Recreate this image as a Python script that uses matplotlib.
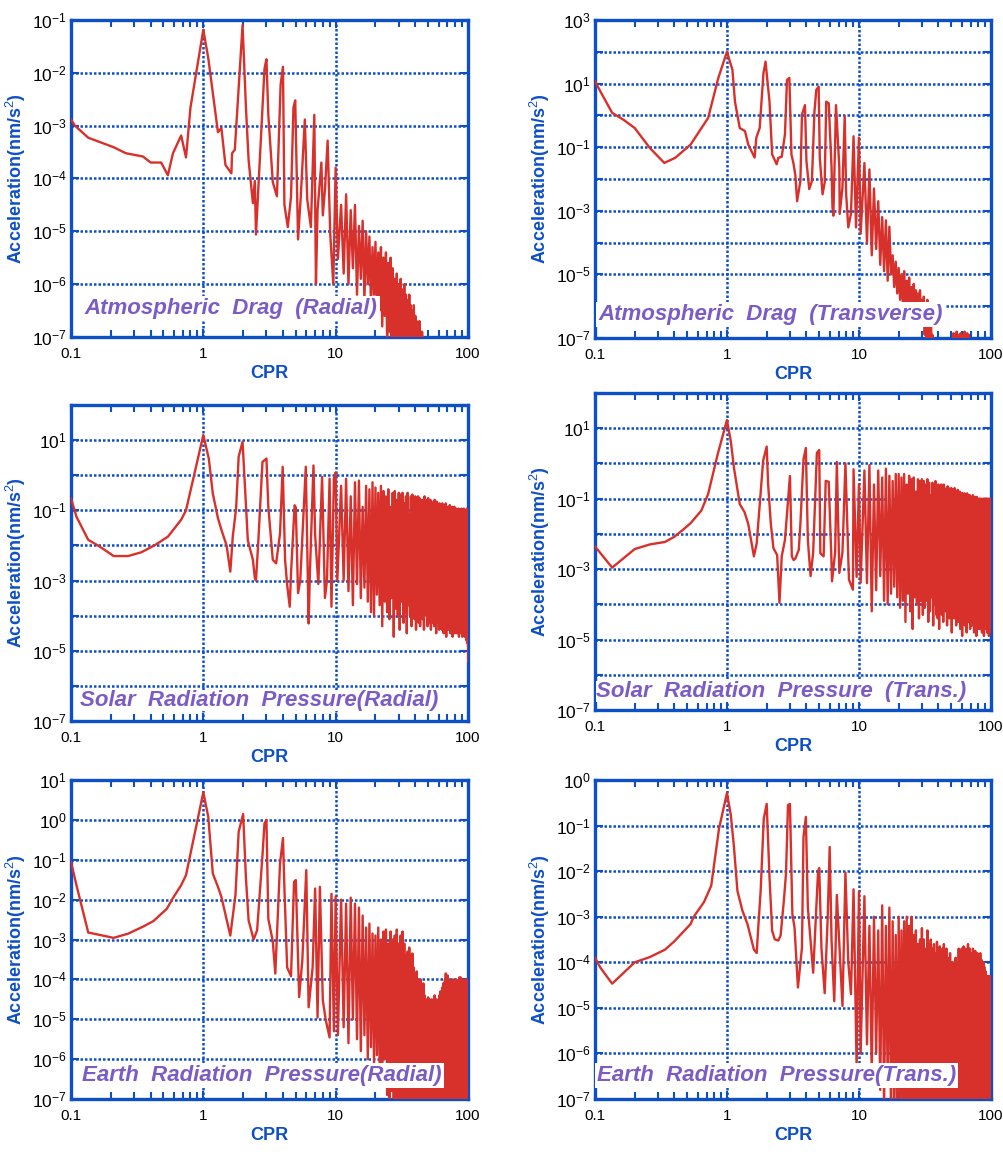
import numpy as np
import matplotlib.pyplot as plt
from matplotlib.ticker import FixedLocator, FuncFormatter, LogLocator, NullLocator, NullFormatter

BLUE = '#0d4fc6'
RED = '#d8302b'
PURPLE = '#7b5cc6'

plt.rcParams['font.family'] = ['Liberation Sans', 'DejaVu Sans']
plt.rcParams['mathtext.fontset'] = 'custom'
plt.rcParams['mathtext.rm'] = 'Liberation Sans'
plt.rcParams['mathtext.it'] = 'Liberation Sans:italic'
plt.rcParams['mathtext.bf'] = 'Liberation Sans:bold'

# ---- spectra below ~10 CPR: frequency (CPR) and amplitude (nm/s^2) ----
# higher harmonics n = 11, 12, ... are given as log10 amplitude at the
# harmonic itself (peak) and half way to the next one (trough)

# atmospheric drag, radial
ad_rad_cpr = [0.1, 0.107, 0.135, 0.21, 0.26, 0.35, 0.4, 0.48, 0.54, 0.59,
              0.68, 0.74, 0.8, 1.0, 1.09, 1.29, 1.37, 1.47, 1.63, 1.65,
              1.73, 1.98, 2.1, 2.2, 2.37, 2.45, 2.5, 2.9, 3.0, 3.1,
              3.35, 3.6, 3.84, 4.0, 4.1, 4.35, 4.6, 4.8, 4.95, 5.2,
              5.45, 5.85, 6.1, 6.5, 6.9, 7.1, 7.3, 7.8, 8.0, 8.3,
              8.7, 9.1, 9.6, 10.0, 10.4]
ad_rad_acc = [1.3e-3, 1.0e-3, 5.9e-4, 3.9e-4, 3.0e-4, 2.6e-4, 2.0e-4, 2.0e-4, 1.15e-4, 3.0e-4,
              6.5e-4, 2.5e-4, 2.2e-3, 6.5e-2, 1.9e-2, 7.5e-4, 9.0e-4, 1.8e-4, 1.25e-4, 3.0e-4,
              3.5e-4, 8.0e-2, 2.2e-3, 2.2e-4, 3.4e-5, 9.0e-5, 8.7e-6, 1.2e-2, 1.8e-2, 1.6e-3,
              8.5e-5, 4.6e-5, 6.0e-3, 1.3e-2, 3.2e-5, 1.2e-5, 4.5e-5, 2.2e-3, 3.0e-3, 7.0e-6,
              4.5e-5, 1.3e-3, 4.0e-5, 1.2e-5, 1.6e-3, 1.0e-6, 2.5e-5, 2.0e-4, 2.0e-5, 6.0e-5,
              5.2e-4, 9.0e-6, 1.0e-6, 1.6e-4, 3.0e-6]
ad_rad_peak = [-4.5, -4.3, -4.6, -4.5, -4.9, -4.8, -5.0, -5.1, -5.3, -5.2,
               -5.4, -5.3, -5.5, -5.4, -5.6, -5.5, -5.7, -5.9, -5.8, -6.0,
               -5.9, -6.1, -6.0, -6.2, -6.3, -6.2, -6.4, -6.5, -6.4, -6.6,
               -6.7, -6.8, -6.7, -6.9, -6.9, -7.0, -7.2, -7.4]
ad_rad_trough = [-5.8, -6.0, -5.7, -6.2, -5.9, -6.3, -6.0, -6.4, -6.2, -6.6,
                 -6.5, -6.8, -6.6, -7.1, -6.9, -7.3, -7.2, -7.5, -7.4, -7.6,
                 -7.5, -7.6, -7.7, -7.6, -7.8, -7.7, -7.8, -7.8, -7.9, -7.8,
                 -7.9, -8.0, -7.9, -8.0, -8.0, -8.0, -8.0, -8.0]

# atmospheric drag, transverse
ad_tra_cpr = [0.1, 0.11, 0.135, 0.165, 0.2, 0.26, 0.335, 0.405, 0.53, 0.72,
              0.86, 1.0, 1.1, 1.15, 1.25, 1.37, 1.45, 1.62, 1.67, 1.77,
              1.89, 1.96, 2.1, 2.2, 2.38, 2.45, 2.6, 2.75, 2.85, 2.97,
              3.08, 3.2, 3.3, 3.4, 3.6, 3.7, 3.9, 4.0, 4.2, 4.4,
              4.6, 4.75, 4.95, 5.05, 5.3, 5.5, 5.65, 5.9, 6.2, 6.3,
              6.4, 6.7, 7.1, 7.15, 7.5, 7.8, 8.0, 8.3, 8.7, 9.1,
              9.5, 10.0, 10.3]
ad_tra_acc = [12, 5.6, 1.2, 0.72, 0.4, 0.095, 0.032, 0.046, 0.12, 0.83,
              15, 100, 27, 2.7, 0.4, 0.32, 0.12, 0.047, 0.2, 0.4,
              21, 49, 2.7, 0.059, 0.029, 0.046, 0.05, 0.25, 13, 15,
              0.059, 0.029, 0.0126, 0.002, 0.0086, 1.05, 2.1, 0.037, 0.0048, 0.0086,
              1.3, 6.3, 8.0, 0.046, 0.0033, 0.0077, 2.7, 2.4, 0.023, 0.0013,
              0.0007, 2.1, 0.023, 0.0008, 0.0055, 0.94, 0.0033, 0.0003, 0.0008, 0.22,
              3e-4, 0.2, 1.9e-4]
ad_tra_peak = [-1.5, -1.7, -2.3, -2.7, -3.2, -3.3, -3.5, -4.4, -4.6, -4.8,
               -5.0, -4.9, -5.2, -5.1, -5.4, -5.3, -5.5, -5.6, -5.5, -5.8,
               -5.7, -5.9, -5.8, -5.9, -5.95, -6.9, -7.2, -7.3, -7.4, -7.5,
               -7.4, -7.5, -7.6, -7.5, -7.6, -7.7, -7.6, -7.7, -7.8, -7.7,
               -7.6, -6.85, -6.9, -7.3, -6.8, -7.2, -6.9, -7.3, -6.85, -7.2,
               -6.9, -7.3, -6.8, -7.4, -6.9, -6.85, -7.5, -6.9, -7.6, -7.8]
ad_tra_trough = [-4.0, -4.4, -4.2, -4.7, -4.9, -5.2, -5.0, -5.4, -5.6, -5.8,
                 -5.9, -6.2, -6.0, -6.4, -6.3, -6.5, -6.4, -6.6, -6.5, -6.6,
                 -6.9, -7.0, -6.95, -7.0, -7.5, -7.6, -7.7, -7.8, -7.8, -7.9,
                 -7.9, -7.9, -8.0, -7.9, -8.0, -8.0, -7.9, -8.0, -8.0, -8.0,
                 -8.0, -7.6, -7.8, -7.7, -7.6, -7.8, -7.7, -7.6, -7.8, -7.7,
                 -7.8, -7.7, -7.6, -7.8, -7.7, -7.8, -7.9, -8.0, -8.0, -8.0]

# solar radiation pressure, radial
srp_rad_cpr = [0.1, 0.11, 0.135, 0.165, 0.21, 0.27, 0.34, 0.43, 0.54, 0.68,
               0.74, 1.0, 1.1, 1.18, 1.29, 1.37, 1.5, 1.6, 1.67, 1.77,
               1.85, 1.98, 2.17, 2.37, 2.45, 2.5, 2.6, 2.8, 3.0, 3.1,
               3.35, 3.55, 3.8, 3.98, 4.15, 4.3, 4.5, 4.6, 4.9, 5.0,
               5.2, 5.4, 5.95, 6.25, 6.4, 6.8, 7.0, 7.4, 7.9, 8.3,
               8.6, 9.0, 9.3, 9.7, 10.0, 10.3]
srp_rad_acc = [0.22, 0.066, 0.0145, 0.0093, 0.005, 0.005, 0.0064, 0.0102, 0.0178, 0.054,
               0.1, 14, 3.0, 0.3, 0.06, 0.028, 0.01, 0.0018, 0.018, 0.115,
               3.4, 9.0, 0.014, 0.0039, 0.0012, 0.001, 0.0117, 2.4, 3.0, 0.125,
               0.0039, 0.0031, 0.022, 1.75, 0.0039, 7.6e-4, 1.8e-4, 1.6e-3, 0.14, 0.12,
               4.4e-4, 1e-3, 1.75, 6e-5, 2e-3, 1.9, 0.02, 8e-4, 0.9, 3.2e-4,
               1e-3, 0.8, 1.8e-4, 0.8, 1.2, 1e-3]
srp_rad_peak = [-0.3, -0.1, -0.6, -0.2, -0.15, -0.9, -0.3, -0.4, -0.2, -0.35,
                -0.5, -0.3, -0.45, -0.6, -0.4, -0.9, -0.5, -0.45, -0.7, -0.5,
                -0.55, -0.5, -0.8, -0.6, -0.5, -1.1, -0.6, -0.55, -0.65, -0.6,
                -0.7, -0.6, -0.65, -1.0, -0.7, -0.75, -0.6, -0.9, -0.7, -0.65,
                -0.8, -0.7, -0.75, -1.2, -0.8, -0.7, -0.85, -0.75, -0.8, -1.0,
                -0.8, -0.85, -0.9, -0.8, -1.1, -0.85, -0.9, -0.8, -0.95, -0.9,
                -0.9, -1.0, -0.85, -0.95, -1.3, -0.9, -1.0, -0.95, -0.9, -1.05,
                -1.0, -0.95, -1.1, -1.0, -0.95, -1.2, -1.0, -1.05, -0.95, -1.0,
                -1.0, -1.1, -0.95, -1.0, -1.05, -1.0, -1.15, -0.95, -1.0, -1.05]
srp_rad_trough = [-3.0, -3.3, -3.7, -3.1, -3.5, -3.2, -3.6, -3.9, -4.0, -3.4,
                  -3.7, -4.3, -3.6, -3.9, -4.1, -3.5, -4.6, -3.8, -4.0, -4.4,
                  -3.6, -4.2, -3.9, -4.5, -3.7, -4.0, -4.3, -3.8, -4.1, -4.4,
                  -3.8, -4.2, -4.3, -3.9, -4.1, -4.4, -3.7, -4.0, -4.3, -4.2,
                  -4.0, -4.4, -3.9, -4.2, -4.3, -4.1, -4.5, -3.9, -4.2, -4.4,
                  -4.1, -4.3, -4.4, -4.0, -4.5, -4.2, -4.3, -4.6, -4.1, -4.4,
                  -4.2, -4.4, -4.5, -4.1, -4.3, -4.6, -4.2, -4.4, -4.5, -4.3,
                  -4.2, -4.5, -4.4, -4.1, -4.6, -4.3, -4.4, -4.5, -4.2, -4.6,
                  -4.3, -4.5, -4.4, -4.6, -4.2, -4.5, -4.7, -4.4, -4.8, -5.3]

# solar radiation pressure, transverse
srp_tra_cpr = [0.1, 0.135, 0.2, 0.26, 0.34, 0.4, 0.46, 0.53, 0.64, 0.72,
               0.85, 1.0, 1.07, 1.13, 1.25, 1.36, 1.45, 1.6, 1.68, 1.88,
               2.0, 2.05, 2.15, 2.25, 2.4, 2.5, 2.6, 2.75, 3.0, 3.1,
               3.2, 3.3, 3.5, 3.6, 3.8, 3.96, 4.1, 4.3, 4.5, 4.8,
               5.0, 5.1, 5.4, 5.6, 5.9, 6.2, 6.25, 6.6, 6.8, 7.1,
               7.5, 7.9, 8.4, 9.0, 9.1, 9.6, 10.0, 10.3]
srp_tra_acc = [0.0044, 0.0011, 0.0037, 0.005, 0.0059, 0.0083, 0.0127, 0.02, 0.046, 0.135,
               1.8, 17, 4.2, 0.75, 0.07, 0.041, 0.019, 0.0023, 0.0054, 1.2,
               3.0, 0.26, 0.019, 0.0039, 0.0025, 1.1e-4, 0.0023, 0.0067, 0.44, 0.0023,
               0.0018, 0.002, 0.0035, 0.019, 1.3, 2.75, 0.0067, 6.3e-4, 0.003, 2.0,
               2.4, 0.0028, 0.0023, 0.32, 0.3, 0.0015, 4.5e-4, 0.003, 1.1, 7.8e-4,
               0.003, 1.0, 5e-4, 2.6e-4, 0.68, 6e-4, 0.26, 4.1e-4]
srp_tra_peak = [-0.2, -0.05, -0.6, -0.2, -0.4, -0.15, -0.35, -0.5, -0.3, -0.3,
                -0.4, -0.3, -0.6, -0.35, -0.45, -0.4, -0.8, -0.45, -0.5, -0.45,
                -0.5, -0.6, -0.45, -0.55, -0.9, -0.55, -0.6, -0.5, -0.7, -0.6,
                -0.65, -0.6, -0.75, -0.6, -1.0, -0.7, -0.65, -0.7, -0.8, -0.7,
                -0.75, -0.8, -0.7, -1.1, -0.8, -0.75, -0.85, -0.8, -0.9, -0.85,
                -0.85, -0.9, -0.85, -1.2, -0.9, -0.85, -0.95, -0.9, -0.9, -1.0,
                -0.95, -1.0, -0.9, -1.0, -1.3, -0.95, -1.0, -0.95, -1.0, -1.1,
                -1.0, -1.05, -1.0, -1.1, -1.0, -1.05, -1.2, -1.0, -1.05, -1.0,
                -1.1, -1.0, -1.05, -1.0, -1.1, -1.05, -1.0, -1.1, -1.05, -1.0]
srp_tra_trough = [-3.4, -4.2, -3.6, -3.2, -3.9, -4.0, -3.7, -3.5, -3.8, -4.1,
                  -3.9, -4.5, -3.7, -4.2, -4.7, -3.8, -4.0, -4.4, -3.9, -4.3,
                  -4.1, -3.9, -4.5, -4.2, -3.8, -4.6, -4.0, -4.3, -4.4, -4.7,
                  -4.0, -4.3, -4.5, -3.9, -4.2, -4.6, -4.1, -4.4, -4.3, -4.8,
                  -4.2, -4.4, -4.0, -4.6, -4.3, -4.5, -4.1, -4.7, -4.4, -4.9,
                  -4.3, -4.5, -4.6, -4.2, -4.8, -4.4, -4.5, -4.3, -4.7, -4.6,
                  -4.4, -4.6, -4.5, -4.8, -4.3, -4.6, -4.9, -4.5, -4.4, -4.7,
                  -4.5, -4.7, -4.4, -4.6, -4.8, -4.5, -4.7, -4.9, -4.6, -4.5,
                  -4.7, -4.6, -4.8, -4.5, -4.7, -4.9, -4.6, -4.8, -4.7, -4.6]

# earth radiation pressure, radial
erp_rad_cpr = [0.1, 0.11, 0.135, 0.21, 0.27, 0.35, 0.42, 0.53, 0.59, 0.68,
               0.74, 1.0, 1.09, 1.18, 1.29, 1.37, 1.6, 1.75, 1.85, 2.0,
               2.1, 2.2, 2.4, 2.55, 2.8, 2.9, 3.0, 3.1, 3.35, 3.5,
               3.8, 4.0, 4.1, 4.3, 4.6, 4.85, 5.0, 5.3, 5.6, 6.0,
               6.25, 6.7, 7.0, 7.3, 7.6, 8.0, 8.4, 9.0, 9.3, 9.7,
               10.0, 10.4]
erp_rad_acc = [0.089, 0.023, 0.0015, 0.0011, 0.0014, 0.0021, 0.0029, 0.0059, 0.011, 0.023,
               0.041, 4.9, 1.2, 0.045, 0.021, 0.0117, 0.00126, 0.013, 0.5, 1.4,
               0.034, 0.003, 0.001, 0.0017, 0.13, 0.82, 1.0, 0.0033, 0.0009, 1.4e-4,
               0.081, 0.35, 0.02, 2e-4, 1.2e-4, 0.028, 0.031, 3.6e-5, 3e-4, 0.055,
               2e-5, 2e-4, 0.019, 1.1e-5, 0.021, 3e-5, 1e-5, 3.5e-6, 0.014, 5e-6,
               0.012, 4e-6]
erp_rad_peak = [-2.0, -2.1, -1.95, -2.1, -2.2, -2.4, -2.7, -2.6, -2.85, -2.9,
                -2.7, -3.0, -2.8, -2.75, -3.1, -2.8, -3.0, -2.9, -2.75, -3.1,
                -2.9, -2.8, -3.1, -3.4, -3.3, -3.2, -3.4, -3.35, -3.7, -3.9,
                -3.8, -4.0, -4.3, -4.0, -4.3, -4.1, -4.4, -4.6, -4.5, -4.45,
                -4.5, -4.8, -4.5, -4.6, -4.5, -4.4, -4.7, -4.5, -4.6, -4.8,
                -4.4, -4.3, -4.6, -4.2, -4.1, -4.3, -4.0, -3.85, -4.1, -3.9,
                -4.2, -4.0, -4.3, -4.05, -4.1, -4.4, -4.0, -4.2, -4.1, -4.3,
                -4.0, -4.2, -4.1, -4.4, -4.0, -3.95, -4.2, -3.95, -4.3, -4.1,
                -4.0, -4.2, -4.1, -4.05, -4.3, -4.0, -4.2, -4.1, -4.4, -4.0]
erp_rad_trough = [-5.2, -5.6, -5.0, -5.5, -5.8, -5.4, -6.0, -5.7, -6.1, -5.9,
                  -6.2, -6.6, -6.0, -6.9, -7.2, -6.8, -7.4, -7.1, -7.6, -7.3,
                  -7.5, -7.8, -7.2, -7.6, -7.9, -7.4, -7.8, -7.5, -8.0, -7.7,
                  -7.6, -7.9, -7.4, -7.8, -8.0, -7.5, -7.7, -7.9, -7.6, -7.8,
                  -7.4, -7.9, -7.7, -8.0, -7.5, -7.8, -7.6, -7.9, -7.7, -7.5,
                  -7.8, -7.6, -7.9, -7.4, -7.7, -8.0, -7.6, -7.8, -7.5, -7.9,
                  -7.7, -7.5, -7.8, -8.0, -7.6, -7.9, -7.4, -7.7, -7.8, -7.6,
                  -7.9, -7.6, -7.8, -7.5, -7.7, -8.0, -7.6, -7.9, -7.7, -7.8,
                  -7.5, -7.8, -7.6, -7.9, -7.7, -7.6, -8.0, -7.8, -7.7, -7.9]

# earth radiation pressure, transverse
erp_tra_cpr = [0.1, 0.11, 0.135, 0.2, 0.26, 0.34, 0.4, 0.53, 0.56, 0.67,
               0.76, 0.87, 1.0, 1.07, 1.13, 1.2, 1.31, 1.43, 1.6, 1.68,
               1.72, 1.8, 1.9, 2.0, 2.1, 2.2, 2.3, 2.45, 2.55, 2.7,
               2.8, 2.9, 3.0, 3.13, 3.25, 3.45, 3.7, 3.8, 3.96, 4.1,
               4.3, 4.5, 4.9, 5.0, 5.2, 5.5, 5.8, 6.0, 6.2, 6.5,
               6.8, 7.5, 7.9, 8.3, 8.7, 9.1, 9.6, 10.0, 10.3]
erp_tra_acc = [1.26e-4, 7.6e-5, 3.4e-5, 1e-4, 1.3e-4, 1.9e-4, 2.9e-4, 6.9e-4, 1e-3, 2.1e-3,
               4.8e-3, 0.085, 0.52, 0.17, 0.034, 3.7e-3, 1.35e-3, 6.9e-4, 1.9e-4, 1.6e-4,
               4.9e-4, 3.7e-3, 0.14, 0.3, 7.4e-3, 4.9e-4, 3.2e-4, 3e-4, 3.9e-4, 2.3e-3,
               8.7e-3, 0.28, 0.3, 1.15e-3, 5.8e-4, 2.8e-5, 2.1e-4, 0.056, 0.155, 1.6e-3,
               3e-4, 5.9e-5, 0.01, 0.0117, 2e-4, 2.1e-5, 1e-3, 0.034, 3e-4, 1.4e-5,
               3e-3, 1.1e-5, 9.2e-3, 1e-4, 2e-5, 4e-3, 5e-7, 3.5e-3, 1e-6]
erp_tra_peak = [-2.55, -3.2, -3.0, -3.3, -2.75, -3.2, -2.8, -3.1, -3.4, -3.0,
                -3.3, -3.1, -3.0, -3.2, -3.0, -3.4, -3.3, -3.6, -3.5, -3.25,
                -3.5, -3.7, -3.3, -3.6, -3.5, -3.7, -3.6, -3.8, -3.55, -3.7,
                -3.65, -3.9, -3.7, -3.6, -3.8, -3.7, -3.9, -4.0, -3.8, -4.1,
                -4.0, -4.1, -4.2, -3.9, -4.0, -4.2, -3.7, -3.8, -3.9, -3.7,
                -3.8, -3.65, -3.9, -3.7, -3.8, -3.9, -3.6, -3.8, -3.7, -3.9,
                -3.8, -4.0, -3.7, -3.9, -3.8, -3.75, -4.0, -3.9, -3.8, -4.1,
                -3.9, -4.0, -3.8, -4.1, -3.95, -4.0, -4.2, -4.0, -4.1, -4.3,
                -4.2, -4.4, -4.3, -4.5, -4.3, -4.4, -4.6, -4.3, -4.4, -4.3]
erp_tra_trough = [-5.8, -6.4, -6.0, -6.8, -7.2, -6.6, -7.5, -7.1, -7.8, -7.3,
                  -7.6, -7.9, -7.4, -7.8, -8.0, -7.5, -7.7, -7.9, -7.6, -7.8,
                  -7.4, -7.9, -7.7, -8.0, -7.5, -7.8, -7.6, -7.9, -7.7, -7.5,
                  -7.8, -7.6, -7.9, -7.4, -7.7, -8.0, -7.6, -7.8, -7.5, -7.9,
                  -7.7, -7.5, -7.8, -8.0, -7.6, -7.9, -7.4, -7.7, -7.8, -7.6,
                  -7.9, -7.6, -7.8, -7.5, -7.7, -8.0, -7.6, -7.9, -7.7, -7.8,
                  -7.5, -7.8, -7.6, -7.9, -7.7, -7.6, -8.0, -7.8, -7.7, -7.9,
                  -7.6, -7.9, -7.7, -7.5, -7.8, -8.0, -7.6, -7.9, -7.7, -7.8,
                  -7.8, -7.6, -7.9, -7.7, -8.0, -7.5, -7.8, -7.6, -7.9, -7.7]

x_ticks = [0.1, 1, 10, 100]
x_ticklabels = ['0.1', '1', '10', '100']


def build_series(cpr, acc, peak, trough, first=11):
    x, y = list(cpr), list(acc)
    for k, (p, t) in enumerate(zip(peak, trough)):
        n = first + k
        x += [n, n + 0.5]
        y += [10.0 ** p, 10.0 ** t]
    return x, y


def exp_formatter(shown):
    def fmt(v, pos):
        e = int(round(np.log10(v)))
        return r'$10^{%d}$' % e if e in shown else ''
    return FuncFormatter(fmt)


# (axes rect in figure fraction, series, y-exponent range, labelled exponents,
#  title, title anchor in axes fraction, padding of the white box behind it)
panels = [
    ([0.0707, 0.7075, 0.3954, 0.2752], (ad_rad_cpr, ad_rad_acc, ad_rad_peak, ad_rad_trough),
     (-7, -1), range(-7, 0), 'Atmospheric  Drag  (Radial)', (0.035, 0.09), 1.5),
    ([0.5926, 0.7066, 0.3944, 0.2761], (ad_tra_cpr, ad_tra_acc, ad_tra_peak, ad_tra_trough),
     (-7, 3), (-7, -5, -3, -1, 1, 3), 'Atmospheric  Drag  (Transverse)', (0.008, 0.073), 1.5),
    ([0.0707, 0.3741, 0.3954, 0.2743], (srp_rad_cpr, srp_rad_acc, srp_rad_peak, srp_rad_trough),
     (-7, 2), (-7, -5, -3, -1, 1), 'Solar  Radiation  Pressure(Radial)', (0.022, 0.066), 0.0),
    ([0.5926, 0.3837, 0.3944, 0.2752], (srp_tra_cpr, srp_tra_acc, srp_tra_peak, srp_tra_trough),
     (-7, 2), (-7, -5, -3, -1, 1), 'Solar  Radiation  Pressure  (Trans.)', (0.003, 0.057), 0.0),
    ([0.0707, 0.0460, 0.3954, 0.2769], (erp_rad_cpr, erp_rad_acc, erp_rad_peak, erp_rad_trough),
     (-7, 1), range(-7, 2), 'Earth  Radiation  Pressure(Radial)', (0.028, 0.075), 1.5),
    ([0.5926, 0.0460, 0.3944, 0.2769], (erp_tra_cpr, erp_tra_acc, erp_tra_peak, erp_tra_trough),
     (-7, 0), range(-7, 1), 'Earth  Radiation  Pressure(Trans.)', (0.005, 0.075), 1.5),
]

fig = plt.figure(figsize=(10.04, 11.52), dpi=100)

for rect, series, (lo, hi), shown, title, (tx, ty), box_pad in panels:
    ax = fig.add_axes(rect)
    x, y = build_series(*series)
    ax.plot(x, y, color=RED, lw=1.7, zorder=3)

    ax.set_xscale('log')
    ax.set_yscale('log')
    ax.set_xlim(0.1, 100)
    ax.set_ylim(10.0 ** lo, 10.0 ** hi)

    ax.xaxis.set_major_locator(FixedLocator(x_ticks))
    ax.set_xticklabels(x_ticklabels)
    ax.xaxis.set_minor_locator(LogLocator(base=10, subs=np.arange(2, 10), numticks=20))
    ax.xaxis.set_minor_formatter(NullFormatter())
    ax.yaxis.set_major_locator(FixedLocator(10.0 ** np.arange(lo, hi + 1)))
    ax.yaxis.set_major_formatter(exp_formatter(set(shown)))
    ax.yaxis.set_minor_locator(NullLocator())

    ax.grid(True, which='major', color=BLUE, linestyle=(0, (1, 0.8)), linewidth=1.8, zorder=1)
    for s in ax.spines.values():
        s.set_color(BLUE)
        s.set_linewidth(2.4)
    ax.tick_params(which='both', direction='in', color=BLUE, top=True, right=True, width=1.5)
    ax.tick_params(which='major', length=6)
    ax.tick_params(which='minor', length=5)
    ax.tick_params(axis='x', labelsize=11, pad=7)
    ax.tick_params(axis='y', labelsize=12.5, pad=3)

    ax.set_xlabel('CPR', color=BLUE, fontsize=13, fontweight='bold', labelpad=3)
    ax.set_ylabel('Acceleration(nm/s$^2$)', color=BLUE, fontsize=13, fontweight='bold', labelpad=3)

    ax.text(tx, ty, title, transform=ax.transAxes, color=PURPLE, fontsize=16,
            fontweight='bold', fontstyle='italic', ha='left', va='center', zorder=5,
            bbox=dict(facecolor='white', edgecolor='none', pad=box_pad))

fig.savefig('out.png', dpi=100)
